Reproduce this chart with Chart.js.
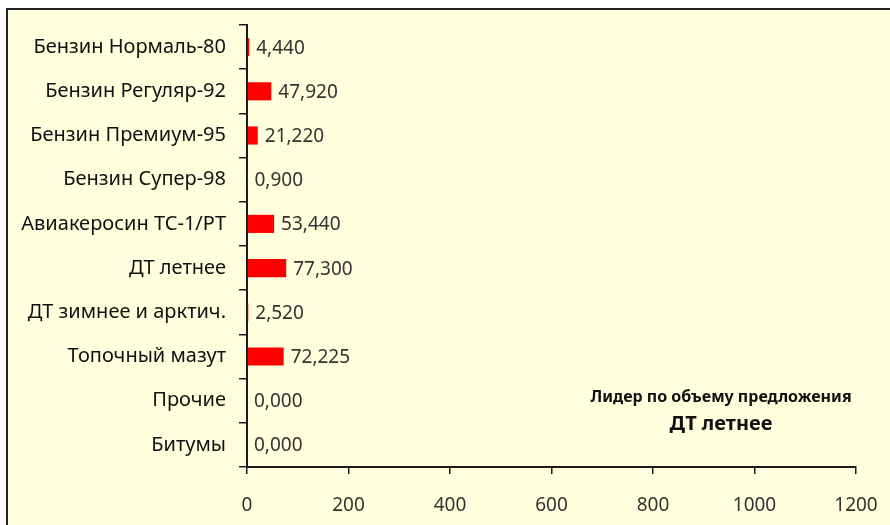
<!DOCTYPE html>
<html>
<head>
<meta charset="utf-8">
<script src="https://cdn.jsdelivr.net/npm/chart.js@4/dist/chart.umd.min.js"></script>
<style>
    html, body { margin: 0; padding: 0; background: #ffffff; }
    #wrap { width: 890px; height: 525px; }
</style>
</head>
<body>
<div id="wrap"><canvas id="myChart" width="890" height="525"></canvas></div>
<script>
const categories = ['Бензин Нормаль-80', 'Бензин Регуляр-92', 'Бензин Премиум-95', 'Бензин Супер-98',
    'Авиакеросин ТС-1/РТ', 'ДТ летнее', 'ДТ зимнее и арктич.', 'Топочный мазут', 'Прочие', 'Битумы'];
const volumes = [4.44, 47.92, 21.22, 0.9, 53.44, 77.3, 2.52, 72.225, 0, 0];
const xTicks = [0, 200, 400, 600, 800, 1000, 1200];
const leaderTitle = 'Лидер по объему предложения';
const leaderName = 'ДТ летнее';

const axisColor = '#1a1a1a';

// фон и рамка
const framePlugin = {
    id: 'frame',
    beforeDraw(chart) {
        const c = chart.ctx;
        c.save();
        c.fillStyle = '#ffffdd';
        c.fillRect(7, 9, chart.width, chart.height);
        c.strokeStyle = '#222222';
        c.lineWidth = 2;
        c.beginPath();
        c.moveTo(7, chart.height + 5);
        c.lineTo(7, 9);
        c.lineTo(chart.width + 5, 9);
        c.stroke();
        c.restore();
    }
};

// подписи значений и текст лидера
const labelsPlugin = {
    id: 'valueLabels',
    afterDatasetsDraw(chart) {
        const c = chart.ctx;
        const meta = chart.getDatasetMeta(0);
        c.save();
        c.font = '19px "Noto Sans", sans-serif';
        c.fillStyle = '#333333';
        c.textBaseline = 'middle';
        c.textAlign = 'left';
        meta.data.forEach((bar, i) => {
            const txt = volumes[i].toFixed(3).replace('.', ',');
            c.fillText(txt, bar.x + 7, bar.y + 1);
        });

        const area = chart.chartArea;
        const cx = area.right - 135;
        c.fillStyle = '#111111';
        c.textAlign = 'center';
        c.font = 'bold 16px "Noto Sans", sans-serif';
        c.fillText(leaderTitle, cx, area.bottom - 70);
        c.font = 'bold 20px "Noto Sans", sans-serif';
        c.fillText(leaderName, cx, area.bottom - 43);
        c.restore();
    }
};

new Chart(document.getElementById('myChart').getContext('2d'), {
    type: 'bar',
    data: {
        labels: categories,
        datasets: [{
            data: volumes,
            backgroundColor: '#ff0000',
            borderWidth: 0,
            barPercentage: 0.41,
            categoryPercentage: 1
        }]
    },
    options: {
        indexAxis: 'y',
        responsive: false,
        animation: false,
        layout: {
            padding: { left: 0, right: 34, top: 23, bottom: 0 }
        },
        plugins: {
            legend: { display: false },
            tooltip: { enabled: false }
        },
        scales: {
            x: {
                min: 0,
                max: 1200,
                afterBuildTicks: (axis) => {
                    axis.ticks = xTicks.map(v => ({ value: v }));
                },
                afterFit: (axis) => {
                    axis.height = 58;
                    axis.paddingLeft = 0;
                    axis.paddingRight = 0;
                },
                grid: {
                    drawOnChartArea: false,
                    drawTicks: true,
                    tickLength: 7,
                    color: axisColor,
                    lineWidth: 1.5
                },
                border: { display: true, color: axisColor, width: 2 },
                ticks: {
                    color: '#333333',
                    padding: 20,
                    font: { family: '"Noto Sans", sans-serif', size: 19 },
                    maxRotation: 0,
                    callback: (v) => String(v)
                }
            },
            y: {
                afterFit: (axis) => { axis.width = 247; },
                grid: {
                    drawOnChartArea: false,
                    drawTicks: true,
                    tickLength: 8,
                    color: axisColor,
                    lineWidth: 1.5
                },
                border: { display: true, color: axisColor, width: 2 },
                ticks: {
                    color: '#111111',
                    padding: 13,
                    font: { family: '"Noto Sans", sans-serif', size: 20 }
                }
            }
        }
    },
    plugins: [framePlugin, labelsPlugin]
});
</script>
</body>
</html>
